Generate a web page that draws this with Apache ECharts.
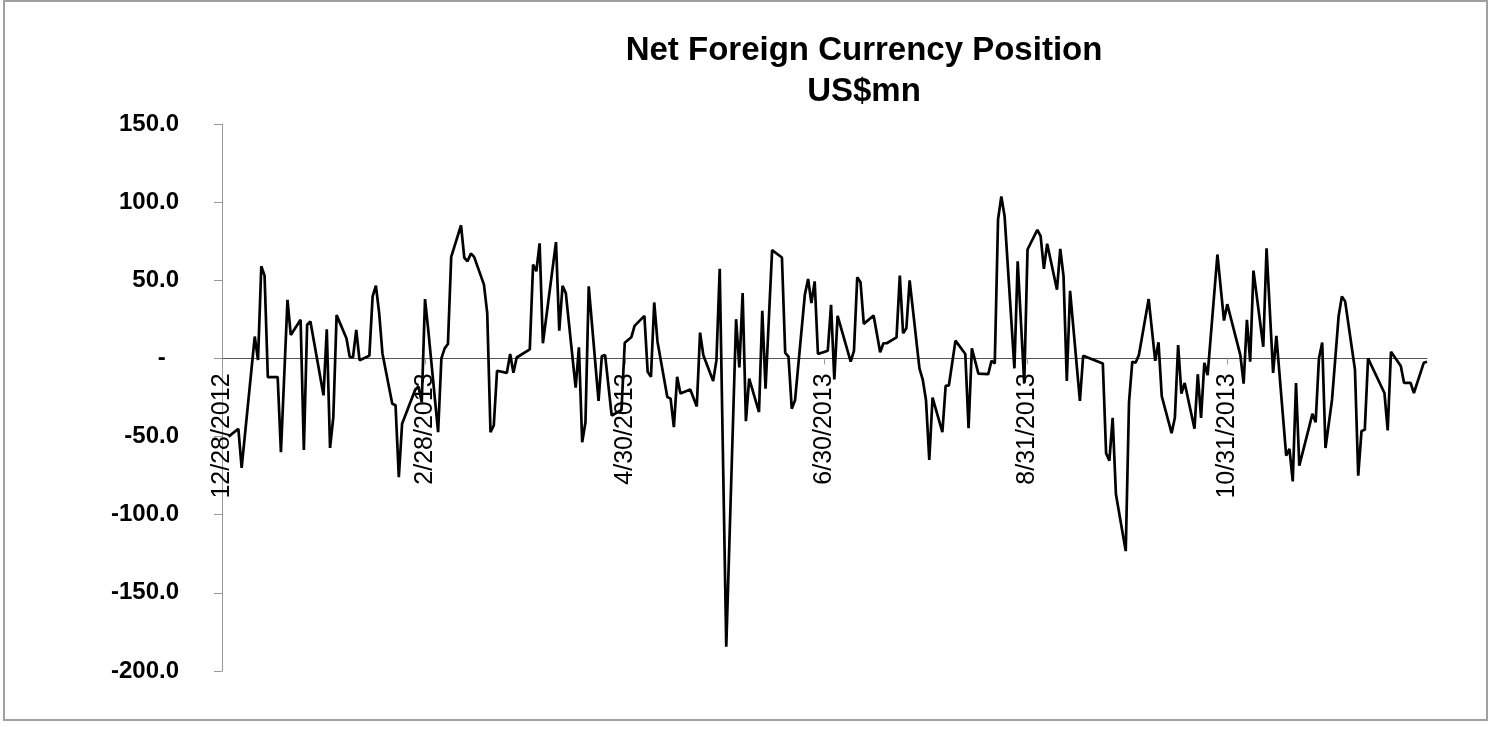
<!DOCTYPE html>
<html>
<head>
<meta charset="utf-8">
<title>Net Foreign Currency Position</title>
<script src="https://cdn.jsdelivr.net/npm/echarts@6/dist/echarts.min.js"></script>
<style>
    html, body { margin: 0; padding: 0; background: #fff; }
    #main { width: 1500px; height: 735px; }
</style>
</head>
<body>
<div id="main"></div>
<script>
// dates of the observations
var dates = [
    '2012-12-30', '2013-01-02', '2013-01-03', '2013-01-07', '2013-01-08', '2013-01-09', '2013-01-10', '2013-01-11',
    '2013-01-14', '2013-01-15', '2013-01-17', '2013-01-18', '2013-01-21', '2013-01-22', '2013-01-23', '2013-01-24',
    '2013-01-28', '2013-01-29', '2013-01-30', '2013-01-31', '2013-02-01', '2013-02-04', '2013-02-05', '2013-02-06',
    '2013-02-07', '2013-02-08', '2013-02-11', '2013-02-12', '2013-02-13', '2013-02-14', '2013-02-15', '2013-02-18',
    '2013-02-19', '2013-02-20', '2013-02-21', '2013-02-25', '2013-02-26', '2013-02-27', '2013-02-28', '2013-03-01',
    '2013-03-04', '2013-03-05', '2013-03-06', '2013-03-07', '2013-03-08', '2013-03-11', '2013-03-12', '2013-03-13',
    '2013-03-14', '2013-03-15', '2013-03-18', '2013-03-19', '2013-03-20', '2013-03-21', '2013-03-22', '2013-03-25',
    '2013-03-26', '2013-03-27', '2013-03-28', '2013-04-01', '2013-04-02', '2013-04-03', '2013-04-04', '2013-04-05',
    '2013-04-09', '2013-04-10', '2013-04-11', '2013-04-12', '2013-04-15', '2013-04-16', '2013-04-17', '2013-04-18',
    '2013-04-19', '2013-04-22', '2013-04-23', '2013-04-24', '2013-04-26', '2013-04-29', '2013-04-30', '2013-05-02',
    '2013-05-03', '2013-05-06', '2013-05-07', '2013-05-08', '2013-05-09', '2013-05-10', '2013-05-13', '2013-05-14',
    '2013-05-15', '2013-05-16', '2013-05-17', '2013-05-20', '2013-05-22', '2013-05-23', '2013-05-24', '2013-05-27',
    '2013-05-28', '2013-05-29', '2013-05-31', '2013-06-03', '2013-06-04', '2013-06-05', '2013-06-06', '2013-06-07',
    '2013-06-10', '2013-06-11', '2013-06-12', '2013-06-14', '2013-06-17', '2013-06-18', '2013-06-19', '2013-06-20',
    '2013-06-21', '2013-06-24', '2013-06-25', '2013-06-26', '2013-06-27', '2013-06-28', '2013-07-01', '2013-07-02',
    '2013-07-03', '2013-07-04', '2013-07-08', '2013-07-09', '2013-07-10', '2013-07-11', '2013-07-12', '2013-07-15',
    '2013-07-17', '2013-07-18', '2013-07-19', '2013-07-22', '2013-07-23', '2013-07-24', '2013-07-25', '2013-07-26',
    '2013-07-29', '2013-07-30', '2013-07-31', '2013-08-01', '2013-08-02', '2013-08-05', '2013-08-06', '2013-08-07',
    '2013-08-09', '2013-08-12', '2013-08-13', '2013-08-14', '2013-08-16', '2013-08-19', '2013-08-20', '2013-08-21',
    '2013-08-22', '2013-08-23', '2013-08-24', '2013-08-27', '2013-08-28', '2013-08-30', '2013-08-31', '2013-09-03',
    '2013-09-04', '2013-09-05', '2013-09-06', '2013-09-09', '2013-09-10', '2013-09-11', '2013-09-12', '2013-09-13',
    '2013-09-16', '2013-09-17', '2013-09-23', '2013-09-24', '2013-09-25', '2013-09-26', '2013-09-27', '2013-09-30',
    '2013-10-01', '2013-10-02', '2013-10-03', '2013-10-04', '2013-10-07', '2013-10-09', '2013-10-10', '2013-10-11',
    '2013-10-14', '2013-10-15', '2013-10-16', '2013-10-17', '2013-10-18', '2013-10-21', '2013-10-22', '2013-10-23',
    '2013-10-24', '2013-10-25', '2013-10-28', '2013-10-30', '2013-10-31', '2013-11-04', '2013-11-05', '2013-11-06',
    '2013-11-07', '2013-11-08', '2013-11-11', '2013-11-12', '2013-11-14', '2013-11-15', '2013-11-18', '2013-11-19',
    '2013-11-20', '2013-11-21', '2013-11-22', '2013-11-25', '2013-11-26', '2013-11-27', '2013-11-28', '2013-11-29',
    '2013-11-30', '2013-12-02', '2013-12-04', '2013-12-05', '2013-12-06', '2013-12-09', '2013-12-10', '2013-12-11',
    '2013-12-12', '2013-12-13', '2013-12-18', '2013-12-19', '2013-12-20', '2013-12-23', '2013-12-24', '2013-12-26',
    '2013-12-27', '2013-12-30', '2013-12-31'
];

// US$mn
var position = [
    -50, -45, -70, 14, -1, 59, 53, -12,
    -12, -60, 37.5, 15, 24.7, -58.6, 21.5, 23.6,
    -23.6, 18.7, -57.3, -37.5, 27.7, 12.9, 1.1, 0.6,
    18.2, -1.1, 1.7, 39.7, 46.5, 29, 3.2, -29,
    -30, -76, -41.8, -20, -18, -28, 38, 18,
    -47.2, 0, 6.4, 9.2, 65, 85.2, 64.4, 62.2,
    67.1, 65, 47.2, 29, -47.2, -42.9, -7.9, -9.2,
    2.8, -9.2, 0.6, 5.8, 60, 55.8, 73.6, 9.7,
    74.4, 17.8, 46.5, 41.8, -18.7, 7.1, -53.6, -40.8,
    46.1, -27.2, 1.5, 2.1, -36.5, -33, 10, 13.5,
    20.8, 27.2, -8.6, -11.8, 35.8, 10.7, -24.7, -25.7,
    -44, -11.8, -22.5, -19.9, -30.7, 16.5, 2.1, -14.4,
    -1.1, 57.3, -184.5, 25.1, -5.8, 41.8, -40.1, -12.9,
    -34.3, 30.5, -19.3, 69.3, 64.6, 3.6, 1.1, -32.2,
    -26.8, 40.8, 50.8, 35.4, 49.3, 2.8, 4.9, 34.3,
    -13.5, 27.2, -2.1, 4.9, 51.9, 48.7, 22.1, 27.5,
    3.9, 9.7, 9.7, 13.5, 53, 16.1, 19.3, 50,
    -6.4, -13.5, -26.8, -65, -25.1, -47.2, -17.6, -17.2,
    11.4, 2.8, -44.6, 6.4, -9.7, -10.1, -1.5, -3.2,
    89, 103.6, 91, -6.4, 62.2, -16.1, 69.7, 82.2,
    78.3, 57.3, 73.4, 44, 70.1, 52.6, -14.4, 43.3,
    -27.2, 1.7, -3.2, -60.7, -65.4, -38, -86.9, -123.3,
    -27.9, -2.1, -2.8, 2.1, 38, -1.5, 10.3, -24.2,
    -47.8, -38, 8.6, -22.5, -15.7, -45, -10.1, -38,
    -2.8, -10.7, 66.5, 24.2, 34.7, 2.1, -16.1, 24.7,
    -2.1, 56.2, 7.5, 70.4, -9.2, 14.4, -62.2, -57.9,
    -78.7, -15.7, -68.6, -44, -35.4, -40.8, 0, 10.1,
    -57.3, -26.4, 26.8, 39.7, 36.5, -7.1, -75, -46.5,
    -45.7, 0, -22.1, -46.1, 4.3, -4.9, -15.7, -15.7,
    -22.1, -2.8, -2.1
];

// labelled dates on the x axis
var tickDates = ['2012-12-28', '2013-02-28', '2013-04-30', '2013-06-30', '2013-08-31', '2013-10-31'];
var axisStart = '2012-12-28';
var axisEnd = '2013-12-31';

var yMin = -200, yMax = 150, yStep = 50;

function toTime(s) {
    var p = s.split('-');
    return new Date(+p[0], +p[1] - 1, +p[2]).getTime();
}

var tickValues = tickDates.map(toTime);
var seriesData = dates.map(function (d, i) {
    return [toTime(d), position[i]];
});

var fontFamily = '"Liberation Sans", Arial, sans-serif';
var gridTop = 124, gridBottom = 64;
var plotHeight = 735 - gridTop - gridBottom;
// shift the date axis up from the bottom of the grid to the zero line
var zeroOffset = -plotHeight * (0 - yMin) / (yMax - yMin);

var chart = echarts.init(document.getElementById('main'));

chart.setOption({
    animation: false,
    backgroundColor: '#fff',
    title: {
        text: 'Net Foreign Currency Position\nUS$mn',
        left: 859,
        top: 25,
        textAlign: 'center',
        textStyle: {
            fontFamily: fontFamily,
            fontSize: 33,
            fontWeight: 'bold',
            color: '#000',
            lineHeight: 41
        }
    },
    graphic: [{
        type: 'rect',
        shape: { x: 4, y: 1, width: 1483, height: 719 },
        style: { fill: 'none', stroke: '#a0a0a0', lineWidth: 2 },
        silent: true
    }],
    grid: {
        left: 222,
        right: 73,
        top: gridTop,
        bottom: gridBottom,
        outerBoundsMode: 'none',
        containLabel: false
    },
    xAxis: {
        // dates as timestamps on a value axis so the labelled ticks can be placed exactly
        type: 'value',
        min: toTime(axisStart),
        max: toTime(axisEnd),
        offset: zeroOffset,
        axisLine: { onZero: false, lineStyle: { color: '#555', width: 1 } },
        axisTick: {
            show: true,
            customValues: tickValues,
            length: 6,
            lineStyle: { color: '#999' }
        },
        axisLabel: {
            customValues: tickValues,
            rotate: 90,
            margin: 15,
            color: '#000',
            fontFamily: fontFamily,
            fontSize: 25,
            formatter: function (val) {
                var d = new Date(val);
                return (d.getMonth() + 1) + '/' + d.getDate() + '/' + d.getFullYear();
            }
        },
        splitLine: { show: false }
    },
    yAxis: {
        type: 'value',
        min: yMin,
        max: yMax,
        interval: yStep,
        axisLine: { show: true, onZero: false, lineStyle: { color: '#999', width: 1 } },
        axisTick: { show: true, length: 8, lineStyle: { color: '#999' } },
        axisLabel: {
            margin: 43,
            color: '#000',
            fontFamily: fontFamily,
            fontSize: 24,
            fontWeight: 'bold',
            formatter: function (v) {
                return v === 0 ? '-  ' : v.toFixed(1);
            }
        },
        splitLine: { show: false }
    },
    series: [{
        type: 'line',
        data: seriesData,
        showSymbol: false,
        symbol: 'none',
        lineStyle: { color: '#000', width: 2.7 },
        itemStyle: { color: '#000' }
    }]
});
</script>
</body>
</html>
